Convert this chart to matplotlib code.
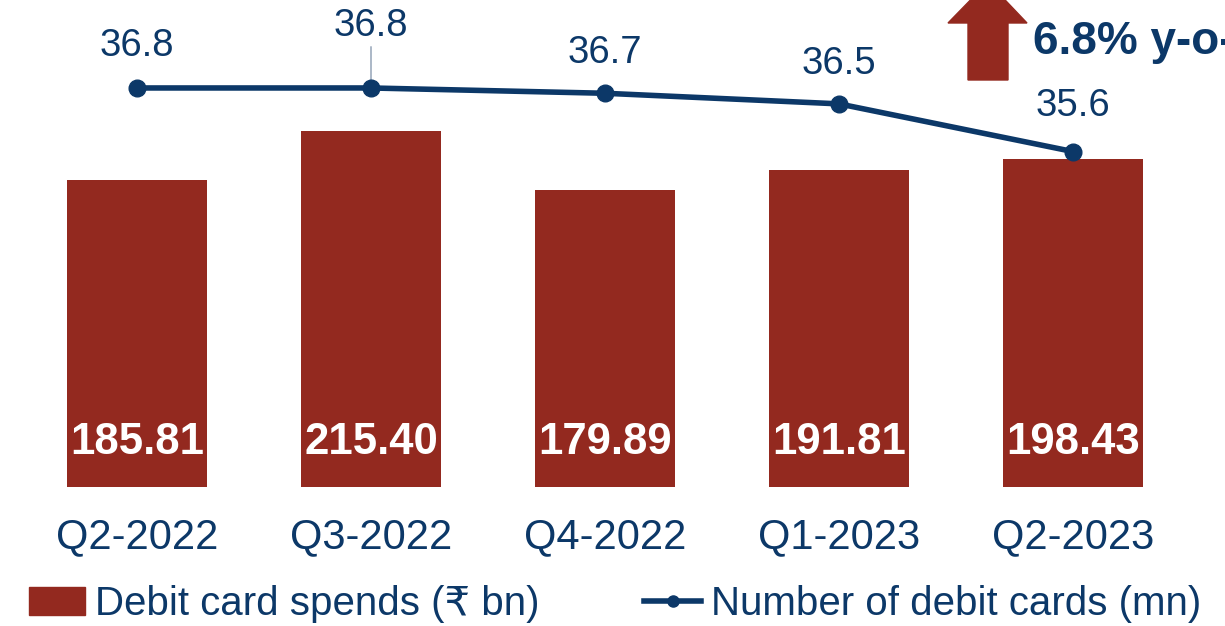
import matplotlib.pyplot as plt
from matplotlib.patches import Polygon, Patch
from matplotlib.lines import Line2D

quarters = ['Q2-2022', 'Q3-2022', 'Q4-2022', 'Q1-2023', 'Q2-2023']
spends = [185.81, 215.40, 179.89, 191.81, 198.43]
cards = [36.8, 36.8, 36.7, 36.5, 35.6]
growth_text = '6.8% y-o-y'

RED = '#93291f'
BLUE = '#0c3868'
FONT = ['Liberation Sans', 'DejaVu Sans']

plt.rcParams['font.family'] = FONT

W, H = 1225, 626
fig = plt.figure(figsize=(W / 100, H / 100), dpi=100)
# axes spans x 20..1190 px, y 0..487 px (from top)
ax = fig.add_axes([20 / W, (H - 487) / H, 1170 / W, 487 / H])
ax2 = ax.twinx()

x = list(range(len(quarters)))
ax.bar(x, spends, width=0.6, color=RED, zorder=2)
ax.set_xlim(-0.5, 4.5)
ax.set_ylim(0, 294.6)

for xi, v in zip(x, spends):
    ax.text(xi, 27, f'{v:.2f}', ha='center', va='center', color='white',
            fontsize=31.5, fontweight='bold', zorder=3)

ax2.plot(x, cards, color=BLUE, lw=4, marker='o', ms=12, zorder=4)
ax2.set_ylim(29.27, 38.46)

offsets = [42, 62, 40, 40, 46]
for xi, v, off in zip(x, cards, offsets):
    ax2.annotate(f'{v:.1f}', (xi, v), xytext=(0, off), textcoords='offset pixels',
                 ha='center', va='center', color=BLUE, fontsize=27.5)
# leader line for Q3 label
ax2.annotate('', (1, 36.8), xytext=(0, 44), textcoords='offset pixels',
             arrowprops=dict(arrowstyle='-', color='#8a9bb0', lw=1))

for a in (ax, ax2):
    for s in a.spines.values():
        s.set_visible(False)
    a.set_yticks([])
ax.tick_params(axis='x', length=0, pad=22)
ax.set_xticks(x)
ax.set_xticklabels(quarters, fontsize=30, color=BLUE)

# growth arrow and text, top right
def px(xp, yp):
    return (xp / W, 1 - yp / H)

arrow = Polygon([px(968, 80), px(1008, 80), px(1008, 23), px(1027, 23),
                 px(988, -18), px(948, 23), px(968, 23)],
                closed=True, transform=fig.transFigure, color=RED)
fig.patches.append(arrow)
fig.text(1033 / W, 1 - 42 / H, growth_text, ha='left', va='center',
         color=BLUE, fontsize=33, fontweight='bold')

handles = [Patch(color=RED),
           Line2D([], [], color=BLUE, lw=4, marker='o', ms=8)]
labels = ['Debit card spends (₹ bn)', 'Number of debit cards (mn)']
leg = fig.legend(handles, labels, loc='center', bbox_to_anchor=(0.502, 1 - 604 / H),
                 ncol=2, frameon=False, handlelength=1.4, handletextpad=0.25,
                 columnspacing=2.6, prop={'family': FONT, 'size': 29})
for t in leg.get_texts():
    t.set_color(BLUE)

fig.savefig('out.png', dpi=100)
